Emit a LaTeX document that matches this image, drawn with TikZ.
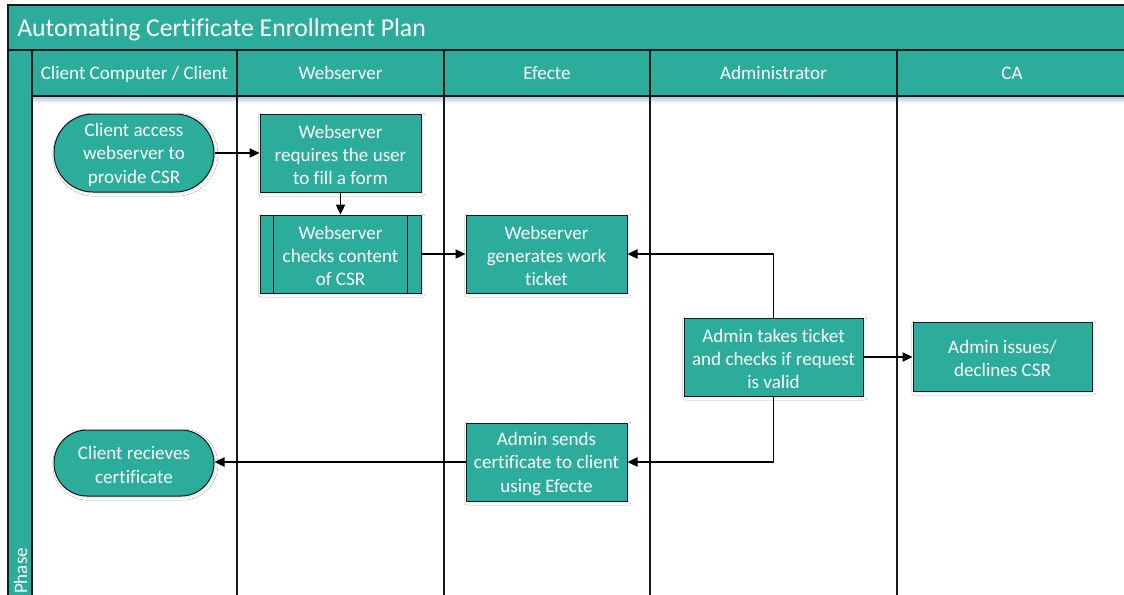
\documentclass[tikz,border=0pt]{standalone}
\usepackage{fontspec}
\setmainfont{Carlito}[RawFeature=-liga, RawFeature=-clig, RawFeature=-calt]
\usetikzlibrary{arrows.meta,shadows.blur}
\definecolor{lanefill}{RGB}{44,172,155}
\definecolor{edge}{RGB}{22,26,32}
\tikzset{
  txt/.style={font=\fontsize{14.3}{17.5}\selectfont, text=white, inner sep=0pt},
  boxtext/.style={font=\fontsize{14.3}{17.5}\selectfont, text=white, align=center,
    inner sep=0pt, yshift=-1.4pt},
  box/.style={draw=edge, line width=0.75pt, fill=lanefill, inner sep=0pt,
    blur shadow={shadow xshift=1pt, shadow yshift=-1.2pt, shadow blur steps=4, shadow opacity=14}},
  lane/.style={draw=edge, line width=1pt},
  flow/.style={draw=black, line width=0.8pt, -{Triangle[length=7.5pt,width=7pt]}},
}
\begin{document}
\begin{tikzpicture}[x=0.75pt,y=-0.75pt]
\useasboundingbox (0,0) rectangle (1124,594);
\clip (0,0) rectangle (1124,594);
\fill[white] (0,0) rectangle (1124,594);

% pool title bar, lane headers and phase column
\fill[lanefill] (8,5) rectangle (1140,96);
\fill[lanefill] (8,96) rectangle (32,610);
\shade[top color=blue!25!gray!45, bottom color=white] (32,96) rectangle (1140,103);
\draw[lane] (8,610) -- (8,5) -- (1140,5);
\draw[lane] (8,50) -- (1140,50);
\draw[lane] (32,96) -- (1140,96);
\foreach \xx in {32,237,444,650,897} \draw[lane] (\xx,50) -- (\xx,610);

\node[anchor=base west, font=\fontsize{19.3}{23}\selectfont, text=white, inner sep=0pt] (title) at (17,36) {Automating Certificate Enrollment Plan};
\node[txt, anchor=base] (h1) at (134.5,79) {Client Computer / Client};
\node[txt, anchor=base] (h2) at (340.5,79) {Webserver};
\node[txt, anchor=base] (h3) at (547,79) {Efecte};
\node[txt, anchor=base] (h4) at (773.5,79) {Administrator};
\node[txt, anchor=base] (h5) at (1012,79) {CA};
\node[txt, rotate=90] (phase) at (20.5,571) {Phase};

% process steps
\node[box, rounded corners=29.25pt, minimum width=120pt, minimum height=58.5pt,
  label={[boxtext]center:{Client access\\webserver to\\provide CSR}}] (c1) at (134,153) {};
\node[box, minimum width=120.75pt, minimum height=58.5pt,
  label={[boxtext]center:{Webserver\\requires the user\\to fill a form}}] (w1) at (340.5,153) {};
\node[box, minimum width=120.75pt, minimum height=58.5pt,
  label={[boxtext]center:{Webserver\\checks content\\of CSR}}] (w2) at (340.5,254) {};
\draw[edge, line width=0.75pt] ([xshift=10.5pt]w2.north west) -- ([xshift=10.5pt]w2.south west);
\draw[edge, line width=0.75pt] ([xshift=-10.5pt]w2.north east) -- ([xshift=-10.5pt]w2.south east);
\node[box, minimum width=120.75pt, minimum height=58.5pt,
  label={[boxtext]center:{Webserver\\generates work\\ticket}}] (e1) at (546.5,254) {};
\node[box, minimum width=134.25pt, minimum height=58.5pt,
  label={[boxtext]center:{Admin takes ticket\\and checks if request\\is valid}}] (a1) at (773.5,357) {};
\node[box, minimum width=134.25pt, minimum height=51.75pt,
  label={[boxtext]center:{Admin issues/\\declines CSR}}] (ca1) at (1002.5,356.5) {};
\node[box, minimum width=120.75pt, minimum height=58.5pt,
  label={[boxtext]center:{Admin sends\\certificate to client\\using Efecte}}] (e2) at (546.5,462) {};
\node[box, rounded corners=24.75pt, minimum width=120pt, minimum height=49.5pt,
  label={[boxtext]center:{Client recieves\\certificate}}] (c2) at (134,463) {};

% flow connectors
\draw[flow] (c1) -- (w1);
\draw[flow] (w1) -- (w2);
\draw[flow] (w2) -- (e1);
\draw[flow] (a1.north) |- (e1.east);
\draw[flow] (a1.south) |- (e2.east);
\draw[flow] (a1.east) -- (a1.east -| ca1.west);
\draw[flow] (e2.west) -- (e2.west -| c2.east);
\end{tikzpicture}
\end{document}
